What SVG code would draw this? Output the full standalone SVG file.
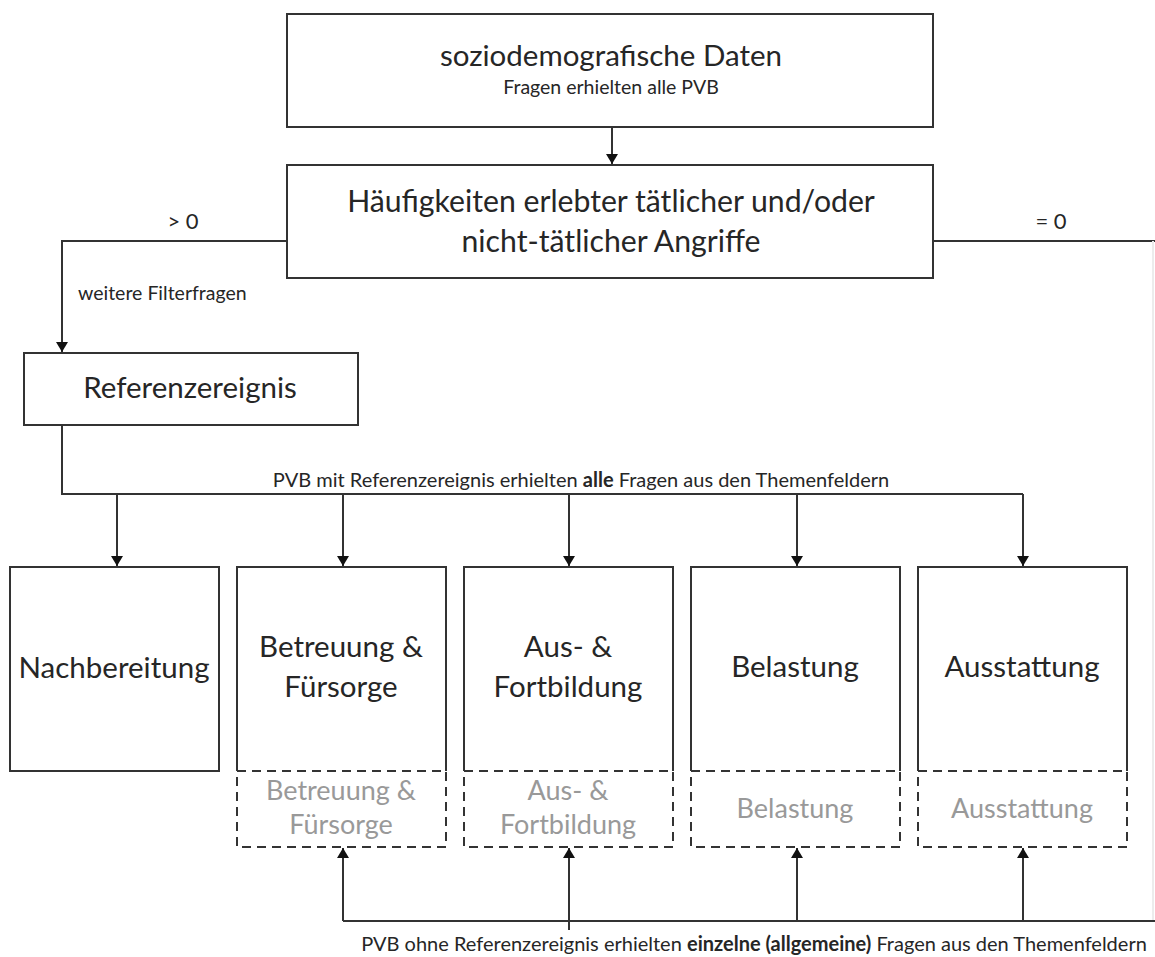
<svg xmlns="http://www.w3.org/2000/svg" width="1155" height="957" viewBox="0 0 1155 957">
<style>
  text { font-family: Lato, "Open Sans", "Liberation Sans", sans-serif; fill: #262626; }
  .big { font-size: 29.5px; text-anchor: middle; }
  .gray { font-size: 27px; text-anchor: middle; fill: #999; }
  .small { font-size: 19.5px; }
  .mid { font-size: 20px; }
  .lbl { font-size: 22px; text-anchor: middle; }
  .box { fill: #fff; stroke: #333; stroke-width: 2; }
  .open { fill: none; stroke: #333; stroke-width: 2; }
  .dash { fill: #fff; stroke: #333; stroke-width: 2; stroke-dasharray: 9 6; }
  .line { fill: none; stroke: #333; stroke-width: 2; }
  .b { font-weight: bold; }
</style>
<defs>
  <marker id="arr" viewBox="0 0 10 12" refX="10" refY="6" markerWidth="10" markerHeight="12" markerUnits="userSpaceOnUse" orient="auto">
    <path d="M0,0 L10,6 L0,12 Z" fill="#111"/>
  </marker>
</defs>
<rect width="1155" height="957" fill="#fff"/>

<g id="connectors">
  <path class="line" d="M612,127 V164" marker-end="url(#arr)"/>
  <path class="line" d="M287,241 H62 V352" marker-end="url(#arr)"/>
  <path class="line" d="M933,241 H1155"/>
  <path d="M1153,241 V921" stroke="#ececec" stroke-width="2" fill="none"/>
  <path class="line" d="M62,425 V494 H1023"/>
  <path class="line" d="M117,494 V566" marker-end="url(#arr)"/>
  <path class="line" d="M343,494 V566" marker-end="url(#arr)"/>
  <path class="line" d="M569,494 V566" marker-end="url(#arr)"/>
  <path class="line" d="M797,494 V566" marker-end="url(#arr)"/>
  <path class="line" d="M1023,494 V566" marker-end="url(#arr)"/>
  <path class="line" d="M343,921 H1155"/>
  <path class="line" d="M343,921 V848" marker-end="url(#arr)"/>
  <path class="line" d="M569,930 V848" marker-end="url(#arr)"/>
  <path class="line" d="M797,921 V848" marker-end="url(#arr)"/>
  <path class="line" d="M1023,921 V848" marker-end="url(#arr)"/>
  <text class="lbl" x="183" y="229">&gt; 0</text>
  <text class="lbl" x="1051" y="229">= 0</text>
  <text class="small" x="78" y="300">weitere Filterfragen</text>
  <text class="mid" x="581" y="487" text-anchor="middle">PVB mit Referenzereignis erhielten <tspan class="b">alle</tspan> Fragen aus den Themenfeldern</text>
  <text class="mid" x="754" y="951" text-anchor="middle">PVB ohne Referenzereignis erhielten <tspan class="b">einzelne (allgemeine)</tspan> Fragen aus den Themenfeldern</text>
</g>

<g id="sozio">
  <rect class="box" x="287" y="14" width="646" height="113"/>
  <text class="big" x="611" y="66">soziodemografische Daten</text>
  <text class="small" x="611" y="94" text-anchor="middle">Fragen erhielten alle PVB</text>
</g>

<g id="haeufigkeiten">
  <rect class="box" x="287" y="165" width="646" height="113"/>
  <text class="big" x="611" y="212" style="font-size:30.2px">Häufigkeiten erlebter tätlicher und/oder</text>
  <text class="big" x="611" y="252" style="font-size:30.2px">nicht-tätlicher Angriffe</text>
</g>

<g id="referenzereignis">
  <rect class="box" x="24" y="353" width="334" height="72"/>
  <text class="big" x="190" y="398">Referenzereignis</text>
</g>

<g id="nachbereitung">
  <rect class="box" x="10" y="567" width="209" height="204"/>
  <text class="big" x="114" y="678">Nachbereitung</text>
</g>

<g id="betreuung">
  <rect class="dash" x="237" y="771" width="209" height="76"/>
  <path class="open" d="M237,771 V567 H446 V771"/>
  <text class="big" x="341" y="657">Betreuung &amp;</text>
  <text class="big" x="341" y="697">Fürsorge</text>
  <text class="gray" x="341" y="800">Betreuung &amp;</text>
  <text class="gray" x="341" y="834">Fürsorge</text>
</g>

<g id="ausbildung">
  <rect class="dash" x="464" y="771" width="209" height="76"/>
  <path class="open" d="M464,771 V567 H673 V771"/>
  <text class="big" x="568" y="657">Aus- &amp;</text>
  <text class="big" x="568" y="697">Fortbildung</text>
  <text class="gray" x="568" y="800">Aus- &amp;</text>
  <text class="gray" x="568" y="834">Fortbildung</text>
</g>

<g id="belastung">
  <rect class="dash" x="691" y="771" width="209" height="76"/>
  <path class="open" d="M691,771 V567 H900 V771"/>
  <text class="big" x="795" y="677">Belastung</text>
  <text class="gray" x="795" y="818">Belastung</text>
</g>

<g id="ausstattung">
  <rect class="dash" x="918" y="771" width="209" height="76"/>
  <path class="open" d="M918,771 V567 H1127 V771"/>
  <text class="big" x="1022" y="677">Ausstattung</text>
  <text class="gray" x="1022" y="818">Ausstattung</text>
</g>
</svg>
